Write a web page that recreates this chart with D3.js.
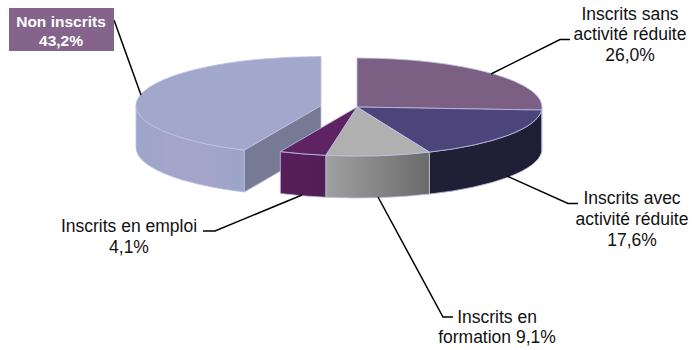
<!DOCTYPE html>
<html lang="fr">
<head>
<meta charset="utf-8">
<title>Répartition des inscrits</title>
<script src="https://cdn.jsdelivr.net/npm/d3@7/dist/d3.min.js"></script>
<style>
  html, body { margin: 0; padding: 0; background: #fff; }
  svg { display: block; }
  text { font-family: "Liberation Sans", Arial, sans-serif; font-size: 17.5px; fill: #111; }
</style>
</head>
<body>
<svg id="chart" width="692" height="350"></svg>
<script>
// Parts of each category, clockwise from twelve o'clock
const categories = ["Inscrits sans activité réduite", "Inscrits avec activité réduite", "Inscrits en formation", "Inscrits en emploi", "Non inscrits"];
const shares = [26.0, 17.6, 9.1, 4.1, 43.2];
const valueLabels = ["26,0%", "17,6%", "9,1%", "4,1%", "43,2%"];

const topColors = ["#7c6083", "#4d447c", "#b0b0b0", "#5f2363", "#a2a8cc"];
const wallStops = [
  ["#8a6c92", "#7a5e82"],
  ["#201e34", "#211f36", "#201e33"],
  ["#a0a0a0", "#868686", "#6a6a6a"],
  ["#581f5a", "#521d55"],
  ["#9da5cb", "#a4a5ca", "#a3a4c9", "#9ca4c9"]
];

const geom = { cx: 357, cy: 107, rx: 185, ry: 49, depth: 42 };
const explode = { dx: -36, dy: -1.5 };
const edge = "#bcc0e4";

const svg = d3.select("#chart");
const defs = svg.append("defs");
const arcs = d3.pie().sort(null).value(d => d)(shares);

const at = (a, ox = 0, oy = 0) => [
  geom.cx + ox + geom.rx * Math.sin(a),
  geom.cy + oy - geom.ry * Math.cos(a)
];
const ell = `${geom.rx} ${geom.ry} 0`;

function topPath(a0, a1, ox, oy) {
  const [x0, y0] = at(a0, ox, oy), [x1, y1] = at(a1, ox, oy);
  const large = a1 - a0 > Math.PI ? 1 : 0;
  return `M${geom.cx + ox} ${geom.cy + oy}L${x0} ${y0}A${ell} ${large} 1 ${x1} ${y1}Z`;
}

function wallPath(a0, a1, ox, oy) {
  const [x0, y0] = at(a0, ox, oy), [x1, y1] = at(a1, ox, oy);
  const d = geom.depth;
  return `M${x0} ${y0}A${ell} 0 1 ${x1} ${y1}L${x1} ${y1 + d}A${ell} 0 0 ${x0} ${y0 + d}Z`;
}

// The side wall is only seen on the front half of the disc
function frontSpan(d) {
  const a0 = Math.max(d.startAngle, Math.PI / 2);
  const a1 = Math.min(d.endAngle, 3 * Math.PI / 2);
  return a1 > a0 ? [a0, a1] : null;
}

function drawSlice(d, i, ox, oy) {
  const g = svg.append("g").attr("class", "slice");
  const span = frontSpan(d);
  if (span) {
    const xs = span.map(a => at(a, ox, oy)[0]);
    const id = `wall-${i}`;
    const grad = defs.append("linearGradient").attr("id", id)
      .attr("gradientUnits", "userSpaceOnUse")
      .attr("x1", Math.min(...xs)).attr("x2", Math.max(...xs))
      .attr("y1", 0).attr("y2", 0);
    const stops = wallStops[i];
    stops.forEach((c, k) => grad.append("stop")
      .attr("offset", k / (stops.length - 1)).attr("stop-color", c));
    g.append("path").attr("d", wallPath(span[0], span[1], ox, oy))
      .attr("fill", `url(#${id})`).attr("stroke", edge).attr("stroke-width", 0.8)
      .attr("stroke-linejoin", "round");
  }
  // Radial cut of the pulled-out slice, facing the viewer
  if (ox !== 0) {
    const [x0, y0] = at(d.startAngle, ox, oy);
    const ax = geom.cx + ox, ay = geom.cy + oy, h = geom.depth;
    g.append("path")
      .attr("d", `M${ax} ${ay}L${x0} ${y0}L${x0} ${y0 + h}L${ax} ${ay + h}Z`)
      .attr("fill", "#767a95").attr("stroke", edge).attr("stroke-width", 0.8)
      .attr("stroke-linejoin", "round");
  }
  g.append("path").attr("d", topPath(d.startAngle, d.endAngle, ox, oy))
    .attr("fill", topColors[i]).attr("stroke", edge).attr("stroke-width", 0.8)
    .attr("stroke-linejoin", "round");
}

// Pulled-out slice sits behind the rest of the pie
drawSlice(arcs[4], 4, explode.dx, explode.dy);
[0, 1, 2, 3].forEach(i => drawSlice(arcs[i], i, 0, 0));

// Leader lines from each label to its slice
const leaders = [
  [[570, 39.5], [560, 39.5], [491, 74]],
  [[578, 203.5], [568, 203.5], [507, 176]],
  [[453, 317], [443, 317], [378, 197]],
  [[203, 231], [215, 231], [302, 195]],
  [[114, 20], [141, 95]]
];
const leaderLine = d3.line();
svg.append("g").selectAll("path").data(leaders).join("path")
  .attr("d", leaderLine).attr("fill", "none")
  .attr("stroke", "#000").attr("stroke-width", 1.5);

// Highlighted label for the largest group
svg.append("rect").attr("x", 9).attr("y", 8).attr("width", 105).attr("height", 43)
  .attr("fill", "#85648c");

const labels = [
  { x: 630, y: [20, 40, 61], lines: ["Inscrits sans", "activité réduite", valueLabels[0]] },
  { x: 632, y: [204, 225, 246], lines: ["Inscrits avec", "activité réduite", valueLabels[1]] },
  { x: 497, y: [323, 343], lines: ["Inscrits en", "formation " + valueLabels[2]] },
  { x: 129, y: [232, 253], lines: ["Inscrits en emploi", valueLabels[3]] },
  { x: 61, y: [27, 46], lines: [categories[4], valueLabels[4]], bold: true, fill: "#fff" }
];
labels.forEach(l => {
  const t = svg.append("text").attr("text-anchor", "middle");
  if (l.bold) t.style("font-weight", "bold").style("font-size", "15.5px");
  if (l.fill) t.style("fill", l.fill);
  l.lines.forEach((s, i) => t.append("tspan").attr("x", l.x).attr("y", l.y[i]).text(s));
});
</script>
</body>
</html>
